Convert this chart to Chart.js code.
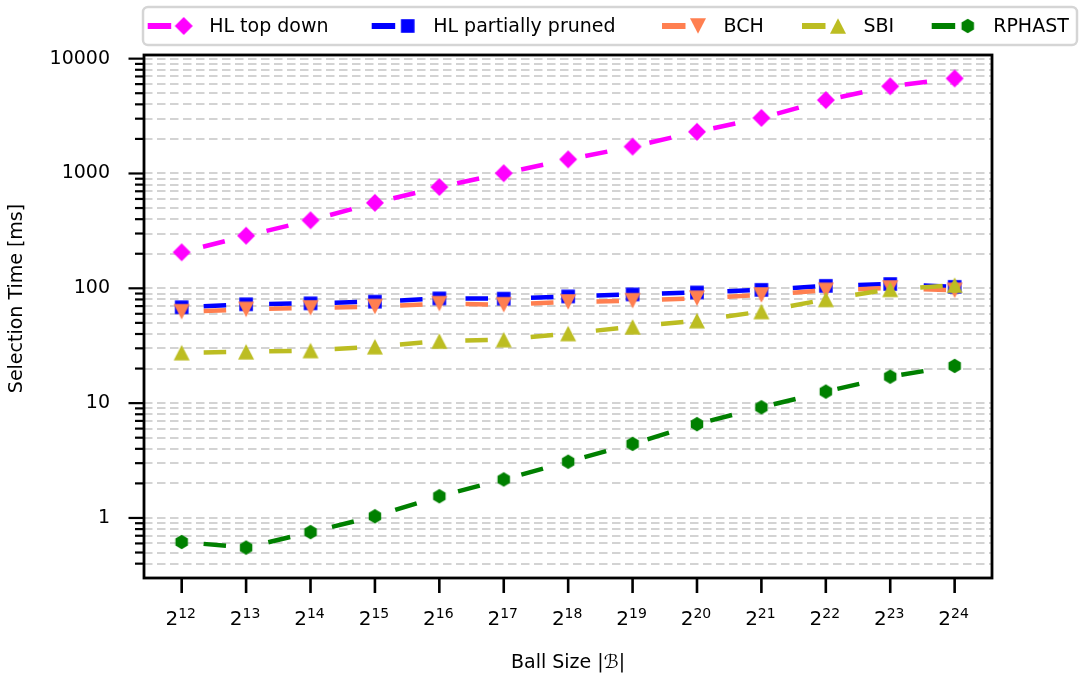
<!DOCTYPE html>
<html>
<head>
<meta charset="utf-8">
<script src="https://cdn.jsdelivr.net/npm/chart.js@4.4.0/dist/chart.umd.min.js"></script>
<style>
  html, body { margin: 0; padding: 0; background: #fff; }
  #wrap { width: 1079px; height: 676px; }
</style>
</head>
<body>
<div id="wrap"><canvas id="selChart"></canvas></div>
<script>
// x = log2 of the ball size
var ballExp = [12, 13, 14, 15, 16, 17, 18, 19, 20, 21, 22, 23, 24];

// selection time in ms
var hlTopDown = [206, 287, 391, 555, 762, 1005, 1327, 1715, 2307, 3048, 4355, 5747, 6733];
var hlPartial = [68.4, 72.6, 74, 76.5, 81.7, 81.3, 85, 88.5, 92, 97, 105, 109, 103];
var bch = [62.5, 65.5, 67.5, 69.3, 73.5, 72, 76, 78, 82, 87.5, 96, 100.6, 96];
var sbi = [27.5, 28, 28.7, 31, 34.7, 35.7, 40.4, 46.2, 52.3, 62.8, 80, 98, 106.5];
var rphast = [0.618, 0.552, 0.753, 1.034, 1.546, 2.166, 3.09, 4.42, 6.56, 9.2, 12.6, 17, 21.1];

var seriesNames = ['HL top down', 'HL partially pruned', 'BCH', 'SBI', 'RPHAST'];
var seriesColors = ['#ff00ff', '#0000ff', '#ff7f50', '#bcbd22', '#008000'];

var yMajor = [1, 10, 100, 1000, 10000];
var yMin = 0.345, yMax = 10760;

var FONT = '"DejaVu Sans", sans-serif';

// marker images (matplotlib style: D, s, v, ^, h)
function makeMarker(kind, color) {
  var c = document.createElement('canvas');
  c.width = 20; c.height = 20;
  var g = c.getContext('2d');
  g.fillStyle = color;
  g.beginPath();
  if (kind === 'diamond') {
    g.moveTo(10, 1); g.lineTo(19, 10); g.lineTo(10, 19); g.lineTo(1, 10);
  } else if (kind === 'square') {
    g.rect(3.2, 3.2, 13.6, 13.6);
  } else if (kind === 'down') {
    g.moveTo(2, 2.3); g.lineTo(18, 2.3); g.lineTo(10, 17.7);
  } else if (kind === 'up') {
    g.moveTo(2, 17.7); g.lineTo(18, 17.7); g.lineTo(10, 2.3);
  } else {
    for (var k = 0; k < 6; k++) {
      var a = -Math.PI / 2 + k * Math.PI / 3;
      var px = 10 + 7.2 * Math.cos(a), py = 10 + 7.2 * Math.sin(a);
      if (k === 0) g.moveTo(px, py); else g.lineTo(px, py);
    }
  }
  g.closePath();
  g.fill();
  return c;
}
var markerKinds = ['diamond', 'square', 'down', 'up', 'hex'];
var markers = markerKinds.map(function (k, i) { return makeMarker(k, seriesColors[i]); });

function pts(vals) {
  return ballExp.map(function (e, i) { return { x: e, y: vals[i] }; });
}

var allSeries = [hlTopDown, hlPartial, bch, sbi, rphast];
var datasets = allSeries.map(function (vals, i) {
  return {
    label: seriesNames[i],
    data: pts(vals),
    borderColor: seriesColors[i],
    backgroundColor: seriesColors[i],
    borderWidth: 4.5,
    borderDash: [22.5, 43],
    borderDashOffset: 43.5,
    tension: 0,
    fill: false,
    pointStyle: markers[i],
    pointRadius: 8,
    pointHoverRadius: 8,
    pointBorderWidth: 0,
    order: 10 - i
  };
});

// y ticks: decades plus 2..9 minor steps
var yTicks = [];
[0.1, 1, 10, 100, 1000].forEach(function (d) {
  for (var m = 1; m <= 9; m++) {
    var v = parseFloat((m * d).toPrecision(6));
    if (v >= yMin && v <= yMax) yTicks.push(v);
  }
});
yTicks.push(10000);

var axesDecor = {
  id: 'axesDecor',
  afterDraw: function (chart) {
    var ctx = chart.ctx, a = chart.chartArea;
    var xs = chart.scales.x, ys = chart.scales.y;
    ctx.save();
    ctx.strokeStyle = '#000';
    ctx.fillStyle = '#000';
    ctx.lineWidth = 2.2;
    ys.ticks.forEach(function (t) {
      var y = ys.getPixelForValue(t.value);
      var len = yMajor.indexOf(t.value) >= 0 ? 15.5 : 9;
      ctx.beginPath(); ctx.moveTo(a.left - len, y); ctx.lineTo(a.left, y); ctx.stroke();
    });
    ctx.lineWidth = 2.6;
    ballExp.forEach(function (e) {
      var x = xs.getPixelForValue(e);
      ctx.beginPath(); ctx.moveTo(x, a.bottom); ctx.lineTo(x, a.bottom + 15); ctx.stroke();
      ctx.font = '20px ' + FONT;
      var wb = ctx.measureText('2').width;
      ctx.font = '14px ' + FONT;
      var ws = ctx.measureText(String(e)).width;
      var x0 = x - (wb + ws) / 2 - 1;
      ctx.textAlign = 'left';
      ctx.textBaseline = 'alphabetic';
      ctx.font = '20px ' + FONT;
      ctx.fillText('2', x0, 625);
      ctx.font = '14px ' + FONT;
      ctx.fillText(String(e), x0 + wb, 617.5);
    });
    ctx.lineWidth = 2.8;
    ctx.strokeRect(a.left, a.top, a.right - a.left, a.bottom - a.top);

    // y axis title
    ctx.save();
    ctx.translate(17.5, 298.5);
    ctx.rotate(-Math.PI / 2);
    ctx.font = '19px ' + FONT;
    ctx.textAlign = 'center';
    ctx.textBaseline = 'middle';
    ctx.fillText('Selection Time [ms]', 0, 0);
    ctx.restore();

    // legend
    var lx = 143, ly = 7, lw = 934, lh = 38, r = 5;
    ctx.lineWidth = 2.5;
    ctx.strokeStyle = '#d5d5d5';
    ctx.fillStyle = '#fff';
    ctx.beginPath();
    ctx.moveTo(lx + r, ly);
    ctx.arcTo(lx + lw, ly, lx + lw, ly + lh, r);
    ctx.arcTo(lx + lw, ly + lh, lx, ly + lh, r);
    ctx.arcTo(lx, ly + lh, lx, ly, r);
    ctx.arcTo(lx, ly, lx + lw, ly, r);
    ctx.closePath();
    ctx.fill();
    ctx.stroke();
    var starts = [147.7, 371.7, 662, 802, 931.7];
    var cy = 26;
    chart.data.datasets.forEach(function (ds, i) {
      var s = starts[i];
      ctx.strokeStyle = ds.borderColor;
      ctx.lineWidth = 6;
      ctx.beginPath(); ctx.moveTo(s, cy); ctx.lineTo(s + 23.5, cy); ctx.stroke();
      var m = markers[i];
      ctx.drawImage(m, s + 36 - m.width / 2, cy - m.height / 2);
      ctx.fillStyle = '#000';
      ctx.font = '19px ' + FONT;
      ctx.textAlign = 'left';
      ctx.textBaseline = 'middle';
      ctx.fillText(ds.label, s + 61.5, cy + 1);
    });
    ctx.restore();
  }
};

var ctx = document.getElementById('selChart').getContext('2d');
var selChart = new Chart(ctx, {
  type: 'line',
  data: { datasets: datasets },
  plugins: [axesDecor],
  options: {
    responsive: true,
    maintainAspectRatio: false,
    animation: false,
    layout: { padding: { top: 55, right: 87, left: 0, bottom: 0 } },
    plugins: {
      legend: { display: false },
      tooltip: { enabled: false }
    },
    scales: {
      x: {
        type: 'linear',
        min: 11.415,
        max: 24.58,
        afterBuildTicks: function (scale) {
          scale.ticks = ballExp.map(function (e) { return { value: e }; });
        },
        afterFit: function (scale) { scale.height = 98; },
        grid: { display: false, drawTicks: false },
        border: { display: false },
        ticks: { display: false },
        title: {
          display: true,
          text: 'Ball Size |ℬ|',
          color: '#000',
          font: { family: 'DejaVu Sans', size: 19 },
          padding: { top: 0, bottom: 2 }
        }
      },
      y: {
        type: 'logarithmic',
        min: yMin,
        max: yMax,
        afterBuildTicks: function (scale) {
          scale.ticks = yTicks.map(function (v) { return { value: v }; });
        },
        afterFit: function (scale) { scale.width = 144; },
        grid: { color: '#d3d3d3', lineWidth: 2, drawTicks: false },
        border: { display: false, dash: [8.5, 4.5] },
        ticks: {
          autoSkip: false,
          padding: 34,
          color: '#000',
          font: { family: 'DejaVu Sans', size: 19 },
          callback: function (v) { return yMajor.indexOf(v) >= 0 ? String(v) : ''; }
        }
      }
    }
  }
});
</script>
</body>
</html>
